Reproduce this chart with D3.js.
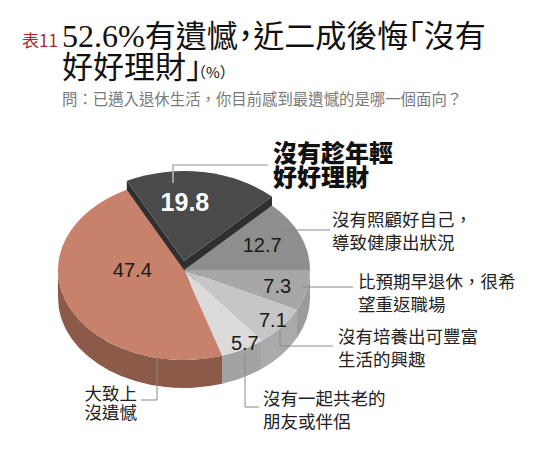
<!DOCTYPE html>
<html>
<head>
<meta charset="utf-8">
<script src="https://cdn.jsdelivr.net/npm/d3@7/dist/d3.min.js"></script>
<style>
body{margin:0;background:#fff}
text{font-family:"Noto Sans CJK TC","Liberation Sans",sans-serif}
</style>
</head>
<body>
<svg id="chart" width="542" height="460"></svg>
<script>
// data, in the order the slices go round (clockwise from 3 o'clock)
const categories = [
  ["比預期早退休，很希", "望重返職場"],
  ["沒有培養出可豐富", "生活的興趣"],
  ["沒有一起共老的", "朋友或伴侶"],
  ["大致上", "沒遺憾"],
  ["沒有趁年輕", "好好理財"],
  ["沒有照顧好自己，", "導致健康出狀況"]
]
const values = [7.3, 7.1, 5.7, 47.4, 19.8, 12.7]

const tableNo = "表11"
const titleNum = "52.6%"
const titleLines = ["有遺憾，近二成後悔「沒有", "好好理財」"]
const unit = "（%）"
const question = "問：已邁入退休生活，你目前感到最遺憾的是哪一個面向？"

// styles
const topColors  = ["#a7a7a7", "#c6c6c6", "#dbdbdb", "#c8816a", "#4a4a4a", "#8e8e8e"]
const wallColors = ["#9b9b9b", "#aaaaaa", "#a3a3a3", "#8b5a49", "#2f2f2f", "#777777"]
const explodeY   = [0, 0, 0, 0, -9, 0]

// label placement (angle nudge in degrees, radial fraction)
const valueNudge = [[0, 0.76], [-0.7, 0.9], [-3, 0.94], [22.3, 0.41], [-8, 0.66], [-1.3, 0.68]]
const leaders = [
  [[302, 287], [353, 287]],
  [[280, 330], [280, 346], [333, 346]],
  [[245, 353], [245, 407], [259, 407]],
  [[157, 352], [157, 400], [141, 400]],
  [[173, 183], [173, 165], [268, 165]],
  [[280, 230], [330, 230]]
]
const labelAt = [[358, 288, "start"], [338, 343, "start"], [263, 405, "start"],
                 [137, 400, "end"], [273, 162, "start"], [332, 226, "start"]]

const cx = 184, cy = 270, rx = 126, ry = 90, depth = 28
const sy = ry / rx
const h = depth / sy

svg = d3.select("#chart")

// title
serif = '"Liberation Serif",serif'
svg.append("text").attr("x", 22).attr("y", 47)
  .attr("font-size", 17).attr("fill", "#b3262a").text(tableNo)
t1 = svg.append("text").attr("x", 62).attr("y", 47)
  .attr("font-size", 31).attr("fill", "#111")
t1.append("tspan").style("font-family", serif).attr("font-size", 32).text(titleNum)
t1.append("tspan").style("font-feature-settings", '"halt"').text(titleLines[0])
t2 = svg.append("text").attr("x", 62).attr("y", 78)
  .attr("font-size", 31).attr("fill", "#111")
  .style("font-feature-settings", '"halt"')
t2.append("tspan").text(titleLines[1])
t2.append("tspan").attr("font-size", 15).attr("dx", -3).text(unit)
svg.append("text").attr("x", 62).attr("y", 105)
  .attr("font-size", 15.4).attr("fill", "#7a7a7a").text(question)

// pie
pie = d3.pie().sort(null).value(d => d)
  .startAngle(Math.PI / 2).endAngle(Math.PI / 2 + 2 * Math.PI)
arcs = pie(values)
arcGen = d3.arc().innerRadius(0).outerRadius(rx)

function wallPath(a0, a1){
  a0 = Math.max(a0, Math.PI / 2)
  a1 = Math.min(a1, 3 * Math.PI / 2)
  if (a1 <= a0) return null
  t0 = a0 - Math.PI / 2
  t1 = a1 - Math.PI / 2
  p = d3.path()
  p.moveTo(rx * Math.cos(t0), rx * Math.sin(t0))
  p.arc(0, 0, rx, t0, t1, false)
  p.lineTo(rx * Math.cos(t1), rx * Math.sin(t1) + h)
  p.arc(0, h, rx, t1, t0, true)
  p.closePath()
  return p.toString()
}

function cutFace(a){
  t = a - Math.PI / 2
  x = rx * Math.cos(t), y = rx * Math.sin(t)
  return `M0,0L${x},${y}L${x},${y + h}L0,${h}Z`
}

function sliceGroup(i){
  return svg.append("g")
    .attr("transform", `translate(${cx},${cy + explodeY[i]})`)
    .append("g")
    .attr("transform", `scale(1,${sy})`)
}

order = d3.range(values.length)

// exploded slice sits behind the rest
order.filter(i => explodeY[i] != 0).forEach(i => {
  g = sliceGroup(i)
  g.append("path").attr("d", cutFace(arcs[i].startAngle)).attr("fill", wallColors[i])
  g.append("path").attr("d", cutFace(arcs[i].endAngle)).attr("fill", wallColors[i])
  g.append("path").attr("d", arcGen(arcs[i])).attr("fill", topColors[i])
})

// walls of the others, then their tops
rest = order.filter(i => explodeY[i] == 0)
rest.forEach(i => {
  d = wallPath(arcs[i].startAngle, arcs[i].endAngle)
  if (d) sliceGroup(i).append("path").attr("d", d).attr("fill", wallColors[i])
})
rest.forEach(i => {
  sliceGroup(i).append("path").attr("d", arcGen(arcs[i])).attr("fill", topColors[i])
})

// leader lines
line = d3.line()
svg.selectAll("path.leader")
  .data(leaders)
  .join("path")
  .attr("class", "leader")
  .attr("d", d => line(d))
  .attr("fill", "none")
  .attr("stroke", (d, i) => i == 4 ? "#b5b5b5" : "#8a8a8a")
  .attr("stroke-width", (d, i) => i == 4 ? 1.6 : 1)

// value labels
svg.selectAll("text.value")
  .data(arcs)
  .join("text")
  .attr("class", "value")
  .attr("x", (d, i) => {
    t = (d.startAngle + d.endAngle) / 2 - Math.PI / 2 + valueNudge[i][0] * Math.PI / 180
    return cx + valueNudge[i][1] * rx * Math.cos(t)
  })
  .attr("y", (d, i) => {
    t = (d.startAngle + d.endAngle) / 2 - Math.PI / 2 + valueNudge[i][0] * Math.PI / 180
    return cy + explodeY[i] + valueNudge[i][1] * ry * Math.sin(t)
  })
  .attr("text-anchor", "middle")
  .attr("dominant-baseline", "central")
  .style("font-family", '"Liberation Sans",Arial,sans-serif')
  .attr("font-size", (d, i) => i == 4 ? 25 : 20)
  .attr("font-weight", (d, i) => i == 4 ? "bold" : "normal")
  .attr("fill", (d, i) => i == 4 ? "#fff" : "#1a1a1a")
  .text(d => d.data.toFixed(1))

// category labels
categories.forEach((lines, i) => {
  big = i == 4
  tx = svg.append("text")
    .attr("x", labelAt[i][0]).attr("y", labelAt[i][1])
    .attr("text-anchor", labelAt[i][2])
    .attr("font-size", big ? 24 : 17.5)
    .attr("font-weight", big ? 900 : 400)
    .attr("fill", big ? "#111" : "#222")
  lines.forEach((s, k) => {
    tx.append("tspan").attr("x", labelAt[i][0])
      .attr("dy", k == 0 ? 0 : (big ? 23.5 : (i == 3 ? 18.5 : 23)))
      .text(s)
  })
})
</script>
</body>
</html>
